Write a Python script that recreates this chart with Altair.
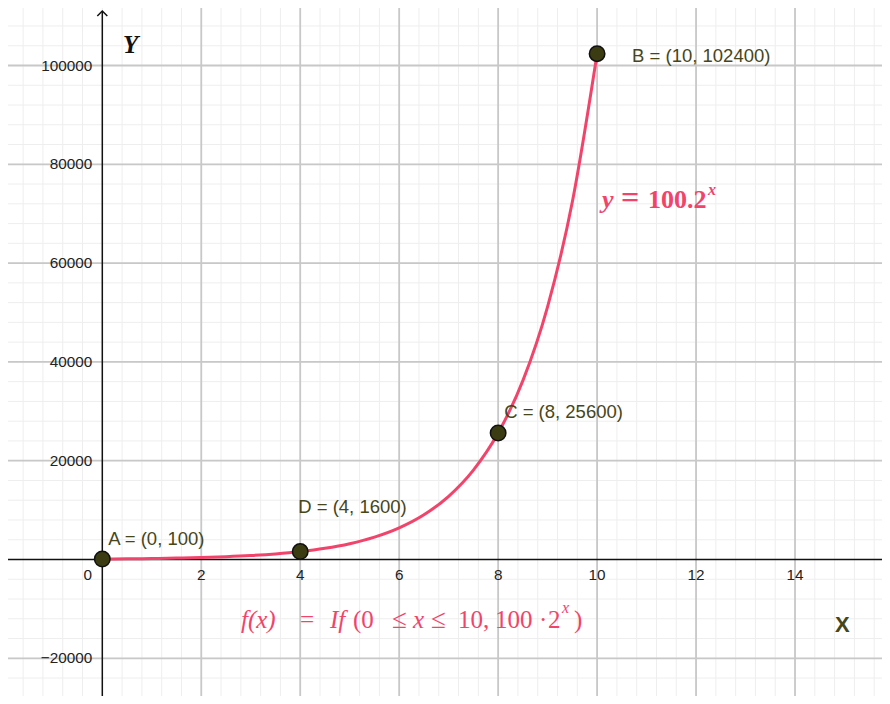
import altair as alt
import pandas as pd

# ---------------- data ----------------
curve_x = [0, 0.5, 1, 1.5, 2, 2.5, 3, 3.5, 4, 4.5, 5, 5.5, 6, 6.5, 7, 7.5, 8, 8.5, 9, 9.5, 10]
curve_y = [100, 141, 200, 283, 400, 566, 800, 1131, 1600, 2263, 3200, 4525, 6400, 9051,
           12800, 18102, 25600, 36204, 51200, 72408, 102400]

pt_names = ["A", "D", "C", "B"]
pt_x = [0, 4, 8, 10]
pt_y = [100, 1600, 25600, 102400]

x_tick_labels = [2, 4, 6, 8, 10, 12, 14]
y_tick_labels = [-20000, 20000, 40000, 60000, 80000, 100000]

x_major_grid = [2, 4, 6, 8, 10, 12, 14]
y_major_grid = [-20000, 20000, 40000, 60000, 80000, 100000]
x_minor_grid = [i * 0.4 for i in range(-4, 40)]
y_minor_grid = [i * 4000 for i in range(-7, 28)]

# ---------------- style ----------------
W, H = 874, 688
PINK = "#f2436b"
OLIVE = "#46461a"
SERIF = "Liberation Serif"
SANS = "Liberation Sans"

xs = alt.Scale(domain=[-1.906, 15.758], nice=False, zero=False)
ys = alt.Scale(domain=[-27632, 111640], nice=False, zero=False)

def X(field):
    return alt.X(field, type="quantitative", scale=xs, axis=None)

def Y(field):
    return alt.Y(field, type="quantitative", scale=ys, axis=None)

# grid
minor_v = alt.Chart(pd.DataFrame({"v": x_minor_grid})).mark_rule(color="#eeeeee", strokeWidth=1).encode(x=X("v"))
minor_h = alt.Chart(pd.DataFrame({"v": y_minor_grid})).mark_rule(color="#eeeeee", strokeWidth=1).encode(y=Y("v"))
major_v = alt.Chart(pd.DataFrame({"v": x_major_grid})).mark_rule(color="#c8c8c8", strokeWidth=1.8).encode(x=X("v"))
major_h = alt.Chart(pd.DataFrame({"v": y_major_grid})).mark_rule(color="#c8c8c8", strokeWidth=1.8).encode(y=Y("v"))

# axes
base = alt.Chart(pd.DataFrame({"d": [0]}))
x_axis = base.mark_rule(color="#111111", strokeWidth=1.5).encode(y=alt.Y("d:Q", scale=ys, axis=None))
y_axis = base.mark_rule(color="#111111", strokeWidth=1.5).encode(
    x=alt.X("d:Q", scale=xs, axis=None), y=alt.value(3), y2=alt.value(H))
arrow = base.mark_point(shape="M -1 0.5 L 0 -0.5 L 1 0.5", filled=False, stroke="#111111",
                        strokeWidth=1.5, size=100, opacity=1).encode(
    x=alt.X("d:Q", scale=xs, axis=None), y=alt.value(5.5))

# tick labels
xt = alt.Chart(pd.DataFrame({"v": x_tick_labels, "z": [0] * len(x_tick_labels)})).mark_text(
    font=SANS, fontSize=15.3, color="#222222", dy=16, baseline="middle", align="center").encode(
    x=X("v"), y=Y("z"), text=alt.Text("v:Q"))
x0 = base.mark_text(font=SANS, fontSize=15.3, color="#222222", dy=16, dx=-14.5,
                    baseline="middle", align="center").encode(
    x=alt.X("d:Q", scale=xs, axis=None), y=alt.Y("d:Q", scale=ys, axis=None), text=alt.Text("d:Q"))
yt = alt.Chart(pd.DataFrame({"v": y_tick_labels, "z": [0] * len(y_tick_labels)})).mark_text(
    font=SANS, fontSize=15.3, color="#222222", dx=-10, baseline="middle", align="right").encode(
    x=X("z"), y=Y("v"), text=alt.Text("v:Q"))

# curve
curve = alt.Chart(pd.DataFrame({"x": curve_x, "y": curve_y})).mark_line(
    color=PINK, strokeWidth=3, interpolate="monotone").encode(x=X("x"), y=Y("y"))

# points
pts_df = pd.DataFrame({"name": pt_names, "x": pt_x, "y": pt_y})
pts_df["label"] = [f"{n} = ({a}, {b})" for n, a, b in zip(pt_names, pt_x, pt_y)]
points = alt.Chart(pts_df).mark_point(filled=True, fill="#3c3c12", stroke="#111111",
                                      strokeWidth=1.5, size=240, opacity=1).encode(x=X("x"), y=Y("y"))

label_offsets = {"A": (6, -20), "D": (-2, -45), "C": (6, -21), "B": (35, 2)}
label_layers = []
for n in pt_names:
    dx, dy = label_offsets[n]
    label_layers.append(
        alt.Chart(pts_df).transform_filter(alt.datum.name == n).mark_text(
            font=SANS, fontSize=18.5, color=OLIVE, align="left", baseline="middle", dx=dx, dy=dy
        ).encode(x=X("x"), y=Y("y"), text="label:N")
    )

# annotations (pixel placed text)
def txt(s, px, py, size, color, weight="normal", style="normal", font=SERIF):
    return base.mark_text(text=s, font=font, fontSize=size, color=color, fontWeight=weight,
                          fontStyle=style, align="left", baseline="alphabetic").encode(
        x=alt.value(px), y=alt.value(py))

ann = [
    txt("Y", 115, 45, 25, "#111111", "bold", "italic"),
    txt("X", 827, 624, 22, OLIVE, "bold", "normal", SANS),
    txt("y", 594, 200, 26, PINK, "bold", "italic"),
    txt("=", 613, 200, 32, PINK, "bold"),
    txt("100.2", 640, 200, 26, PINK, "bold"),
    txt("x", 700, 187, 16, PINK, "bold", "italic"),
    txt("f(x)", 233, 620, 25, PINK, "normal", "italic"),
    txt("=", 292, 620, 25, PINK),
    txt("If", 322, 620, 25, PINK, "normal", "italic"),
    txt("(0", 345, 620, 25, PINK),
    txt("≤", 384, 620, 27, PINK),
    txt("x", 405, 620, 25, PINK, "normal", "italic"),
    txt("≤", 423, 620, 27, PINK),
    txt("10,", 450, 620, 25, PINK),
    txt("100", 487, 620, 25, PINK),
    txt("·", 531, 620, 25, PINK),
    txt("2", 540, 620, 25, PINK),
    txt("x", 554, 605, 16, PINK, "normal", "italic"),
    txt(")", 566, 620, 25, PINK),
]

chart = alt.layer(
    minor_v, minor_h, major_v, major_h, x_axis, y_axis, arrow,
    xt, x0, yt, curve, points, *label_layers, *ann
).properties(width=W, height=H, padding=0, autosize=alt.AutoSizeParams(type="none")).configure_view(
    strokeWidth=0)

chart.save("out.html", embed_options={"renderer": "svg", "actions": False})
